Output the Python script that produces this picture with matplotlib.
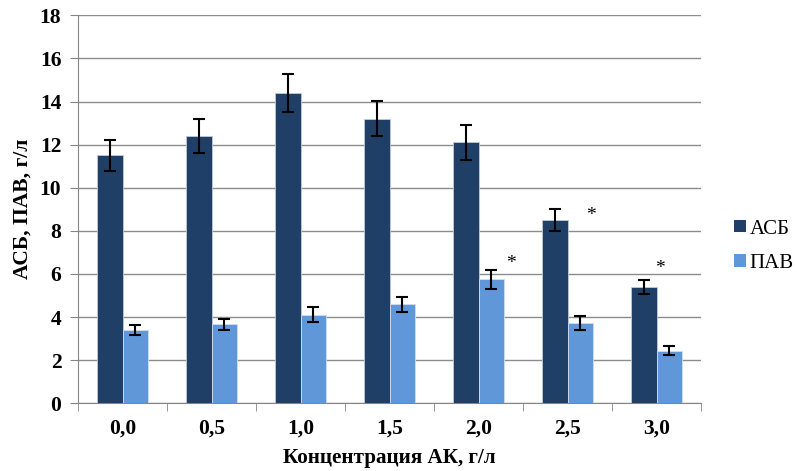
import matplotlib
matplotlib.use("Agg")
import matplotlib.pyplot as plt
import numpy as np
from matplotlib.patches import Patch

categories = ["0,0", "0,5", "1,0", "1,5", "2,0", "2,5", "3,0"]
asb = [11.5, 12.4, 14.4, 13.2, 12.1, 8.5, 5.4]
asb_err = [0.7, 0.8, 0.9, 0.82, 0.8, 0.51, 0.33]
pav = [3.4, 3.67, 4.12, 4.59, 5.75, 3.74, 2.45]
pav_err = [0.24, 0.26, 0.35, 0.35, 0.45, 0.32, 0.2]
star_labels = ["", "", "", "", "*", "*", "*"]
series_names = ["АСБ", "ПАВ"]

plt.rcParams['font.family'] = ['Liberation Serif', 'DejaVu Serif']

fig = plt.figure(figsize=(7.97, 4.71), dpi=100)
ax = fig.add_axes([0.0979, 0.1437, 0.7817, 0.8238])

x = np.arange(len(categories))
w = 0.29
c1 = "#1F3F67"
c2 = "#5F97D9"
ax.bar(x - w/2, asb, w, color=c1, edgecolor="#BFCBDB", linewidth=0.6, zorder=3)
ax.bar(x + w/2, pav, w, color=c2, edgecolor="#D0DEF0", linewidth=0.6, zorder=3)
ax.errorbar(x - w/2, asb, yerr=asb_err, fmt="none", ecolor="black", elinewidth=1.5, capsize=4.5, capthick=1.5, zorder=4)
ax.errorbar(x + w/2, pav, yerr=pav_err, fmt="none", ecolor="black", elinewidth=1.5, capsize=4.5, capthick=1.5, zorder=4)

# significance marks
star_dx = [0, 0, 0, 0, 0.36, 0.26, 0.04]
star_y = [0, 0, 0, 0, 6.5, 8.7, 6.25]
for i, s in enumerate(star_labels):
    if s:
        ax.text(x[i] + star_dx[i], star_y[i], s, ha="center", va="center", fontsize=14, zorder=5)

ax.set_xlim(-0.5, len(categories) - 0.5)
ax.set_ylim(0, 18)
ax.set_yticks(np.arange(0, 19, 2))
ax.set_xticks(x)
ax.set_xticklabels(categories, fontsize=15.5, fontweight="bold")
for lab in ax.get_yticklabels():
    lab.set_fontsize(15.5)
    lab.set_fontweight("bold")
ax.set_xticks(np.arange(-0.5, len(categories), 1), minor=True)
ax.tick_params(axis="x", which="major", length=0, pad=11)
ax.tick_params(axis="x", which="minor", length=6, color="#868686", direction="out")
ax.tick_params(axis="y", length=6, color="#868686", pad=6)

ax.grid(axis="y", color="#8C8C8C", linewidth=1.0, zorder=0)
ax.set_axisbelow(True)
for sp in ["top", "right"]:
    ax.spines[sp].set_visible(False)
ax.spines["left"].set_color("#868686")
ax.spines["bottom"].set_color("#868686")

ax.set_xlabel("Концентрация АК, г/л", fontsize=15.2, fontweight="bold", labelpad=7)
ax.set_ylabel("АСБ, ПАВ, г/л", fontsize=15.5, fontweight="bold", labelpad=5)

handles = [Patch(facecolor=c1, edgecolor="none"), Patch(facecolor=c2, edgecolor="none")]
fig.legend(handles, series_names, loc="center left", bbox_to_anchor=(0.916, 0.477),
           frameon=False, fontsize=15, handlelength=0.55, handleheight=0.55,
           handletextpad=0.2, labelspacing=0.75, borderaxespad=0, borderpad=0.2)

fig.savefig("out.png", dpi=100)
